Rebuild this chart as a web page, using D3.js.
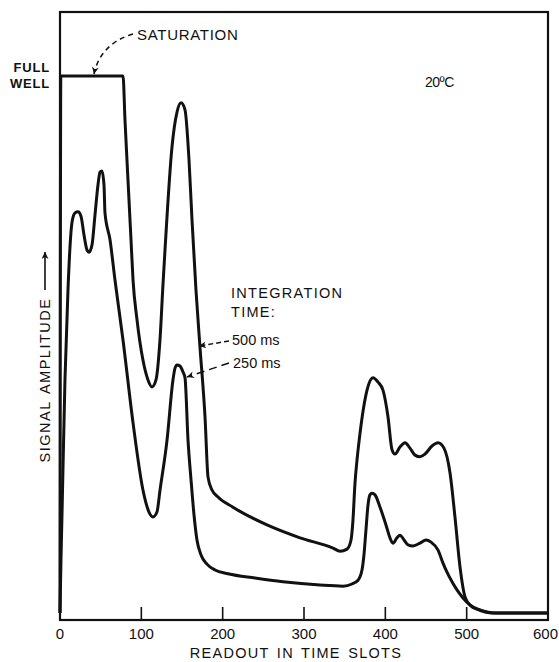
<!DOCTYPE html>
<html>
<head>
<meta charset="utf-8">
<script src="https://cdn.jsdelivr.net/npm/d3@7"></script>
<style>
body { margin: 0; background: #fff; }
text { font-family: "Liberation Sans", Arial, sans-serif; fill: #111; }
</style>
</head>
<body>
<div class="canva"></div>
<script>
// readout slot / signal amplitude (full well = 100)
const slots500 = [0, 1, 77.5, 79.9, 83.6, 87.3, 89.8, 94.7, 102, 108.2, 113.1, 118, 122.9, 126.6, 129.1, 137.7, 143.9, 148.8, 153.7, 158.6, 162.3, 167.2, 172.1, 178.3, 182, 186.9, 194.3, 212.7, 254.5, 295.1, 335.7, 344.3, 352.9, 357.8, 360.2, 362.7, 365.2, 368.9, 377.5, 384.8, 391, 397.1, 403.3, 408.2, 411.9, 418, 424.2, 430.3, 436.5, 442.6, 448.8, 457.4, 464.8, 472.1, 479.5, 485.6, 491.8, 498, 505.3, 512.7, 532.4, 600];
const signal500 = [0, 100, 100, 91.8, 80.6, 69.5, 62, 54.6, 47.1, 43.4, 42.1, 43.4, 50.8, 61.1, 67.6, 86.8, 93.3, 95, 93.7, 84.4, 73.2, 60.1, 49.5, 36.5, 25.3, 22.9, 21.6, 19.7, 16.4, 14, 12.1, 11.5, 11.9, 13.6, 17.3, 24.2, 28.5, 33.5, 41.5, 43.8, 43, 41.5, 36.5, 30.4, 29.6, 30.9, 31.7, 30.7, 29.4, 29.1, 29.6, 31.1, 31.7, 30.7, 26.1, 17.9, 8.6, 3, 1.3, 0.7, 0, 0];

const slots250 = [0, 1.2, 2.5, 6.1, 9.8, 12.3, 14.8, 18.4, 22.1, 25.8, 29.5, 33.2, 35.7, 39.3, 43, 46.7, 49.2, 51.6, 54.1, 55.3, 61.5, 67.6, 77.5, 89.8, 102, 109.4, 114.3, 119.2, 123, 131.6, 138.9, 141.4, 143.9, 147.5, 151.2, 153.7, 157.4, 161.1, 164.8, 168.4, 173.4, 180.7, 190.6, 206.6, 239.8, 274.2, 319.7, 347.9, 359, 366.4, 371.3, 373.7, 376.2, 378.7, 381.1, 383.6, 387.3, 393.5, 400.8, 405.7, 409.4, 414.3, 418, 423, 427.9, 434, 442.6, 450, 456.2, 464.8, 470.9, 475.8, 482, 488.1, 495.5, 504.1, 513.9, 525, 534.8, 600];
const signal250 = [0, 9.9, 18.6, 43.4, 60.1, 68.2, 72.8, 74.5, 74.7, 73.9, 70.4, 67.6, 67.2, 68.5, 74.1, 79.7, 82.1, 82.3, 79.7, 74.5, 69.5, 62, 50.8, 35.4, 22.9, 18.8, 17.9, 18.8, 22.9, 32.2, 43.4, 45.6, 46.2, 46, 44.9, 43.8, 32.2, 24.8, 18.2, 13.6, 10.8, 9.1, 8, 7.3, 6.5, 5.8, 5.2, 5, 5.4, 6.1, 8, 10.8, 15.5, 20.1, 22, 22.3, 22, 19.7, 16.4, 14, 13, 14, 14.5, 13.6, 12.7, 12.5, 13, 13.6, 13.2, 11.7, 9.3, 7.6, 5.8, 4.3, 2.8, 1.5, 0.7, 0.2, 0, 0];

const xTicks = [0, 100, 200, 300, 400, 500, 600];
const xTickLabels = ["0", "100", "200", "300", "400", "500", "600"];

const WIDTH = 559, HEIGHT = 662;
const MARGIN = { TOP: 12, RIGHT: 11, BOTTOM: 42, LEFT: 60 };
const INNER_W = WIDTH - MARGIN.LEFT - MARGIN.RIGHT;
const INNER_H = HEIGHT - MARGIN.TOP - MARGIN.BOTTOM;

const svg = d3.select(".canva").append("svg")
    .attr("width", WIDTH)
    .attr("height", HEIGHT);

const defs = svg.append("defs");
defs.append("marker")
    .attr("id", "head")
    .attr("viewBox", "0 0 10 10")
    .attr("refX", 10).attr("refY", 5)
    .attr("markerWidth", 9).attr("markerHeight", 7)
    .attr("markerUnits", "userSpaceOnUse")
    .attr("orient", "auto")
  .append("path")
    .attr("d", "M0,0 L10,5 L0,10 L3,5 Z")
    .attr("fill", "#111");

const x = d3.scaleLinear().domain([0, 600]).range([MARGIN.LEFT, MARGIN.LEFT + INNER_W]);
// baseline of the traces sits a little above the frame bottom
const y = d3.scaleLinear().domain([0, 100]).range([613, 76]);

const line = d3.line()
    .x(d => x(d[0]))
    .y(d => y(d[1]))
    .curve(d3.curveMonotoneX);

// frame
svg.append("rect")
    .attr("x", MARGIN.LEFT)
    .attr("y", MARGIN.TOP)
    .attr("width", INNER_W)
    .attr("height", INNER_H)
    .attr("fill", "none")
    .attr("stroke", "#111")
    .attr("stroke-width", 2.2);

// inward ticks + labels
const axis = svg.append("g");
axis.selectAll("line").data(xTicks.slice(1, -1))
    .enter().append("line")
    .attr("x1", d => x(d)).attr("x2", d => x(d))
    .attr("y1", MARGIN.TOP + INNER_H)
    .attr("y2", MARGIN.TOP + INNER_H - 13)
    .attr("stroke", "#111")
    .attr("stroke-width", 1.6);

axis.selectAll("text").data(xTicks)
    .enter().append("text")
    .attr("x", d => d === 600 ? WIDTH - 1 : x(d))
    .attr("y", 639)
    .attr("text-anchor", d => d === 600 ? "end" : "middle")
    .attr("font-size", 15)
    .text((d, i) => xTickLabels[i]);

svg.append("text")
    .attr("x", 296)
    .attr("y", 658)
    .attr("text-anchor", "middle")
    .attr("font-size", 14.5)
    .attr("letter-spacing", 1.3)
    .attr("word-spacing", 2)
    .text("READOUT IN TIME SLOTS");

// y label with arrow
svg.append("text")
    .attr("transform", "translate(50,380) rotate(-90)")
    .attr("text-anchor", "middle")
    .attr("font-size", 14.5)
    .attr("letter-spacing", 1.5)
    .attr("word-spacing", 2)
    .text("SIGNAL AMPLITUDE");

svg.append("line")
    .attr("x1", 45).attr("x2", 45)
    .attr("y1", 290).attr("y2", 252)
    .attr("stroke", "#111")
    .attr("stroke-width", 1.6)
    .attr("marker-end", "url(#head)");

// traces
svg.append("path")
    .datum(d3.zip(slots500, signal500))
    .attr("d", line)
    .attr("fill", "none")
    .attr("stroke", "#111")
    .attr("stroke-width", 3)
    .attr("stroke-linejoin", "round");

svg.append("path")
    .datum(d3.zip(slots250, signal250))
    .attr("d", line)
    .attr("fill", "none")
    .attr("stroke", "#111")
    .attr("stroke-width", 3)
    .attr("stroke-linejoin", "round");

// annotations
svg.append("text")
    .attr("x", 50).attr("y", 72)
    .attr("text-anchor", "end")
    .attr("font-size", 13)
    .attr("font-weight", "bold")
    .attr("letter-spacing", 0.8)
    .text("FULL");
svg.append("text")
    .attr("x", 50).attr("y", 88)
    .attr("text-anchor", "end")
    .attr("font-size", 13)
    .attr("font-weight", "bold")
    .attr("letter-spacing", 0.8)
    .text("WELL");

svg.append("text")
    .attr("x", 137).attr("y", 40)
    .attr("font-size", 15)
    .attr("letter-spacing", 0.7)
    .text("SATURATION");

svg.append("path")
    .attr("d", "M133,34 C112,40 98,54 94,74")
    .attr("fill", "none")
    .attr("stroke", "#111")
    .attr("stroke-width", 1.5)
    .attr("stroke-dasharray", "5,4")
    .attr("marker-end", "url(#head)");

svg.append("text")
    .attr("x", 425).attr("y", 87)
    .attr("font-size", 14)
    .attr("letter-spacing", -0.5)
    .text("20ºC");

svg.append("text")
    .attr("x", 231).attr("y", 298)
    .attr("font-size", 14.5)
    .attr("letter-spacing", 1.3)
    .text("INTEGRATION");
svg.append("text")
    .attr("x", 231).attr("y", 317)
    .attr("font-size", 14.5)
    .attr("letter-spacing", 1.3)
    .text("TIME:");

svg.append("text")
    .attr("x", 232).attr("y", 345)
    .attr("font-size", 14.5)
    .text("500 ms");
svg.append("text")
    .attr("x", 233).attr("y", 368)
    .attr("font-size", 14.5)
    .text("250 ms");

svg.append("line")
    .attr("x1", 229).attr("y1", 341)
    .attr("x2", 199).attr("y2", 346)
    .attr("stroke", "#111")
    .attr("stroke-width", 1.5)
    .attr("stroke-dasharray", "5,3")
    .attr("marker-end", "url(#head)");

svg.append("line")
    .attr("x1", 229).attr("y1", 363)
    .attr("x2", 187).attr("y2", 377)
    .attr("stroke", "#111")
    .attr("stroke-width", 1.5)
    .attr("stroke-dasharray", "8,5")
    .attr("marker-end", "url(#head)");
</script>
</body>
</html>
